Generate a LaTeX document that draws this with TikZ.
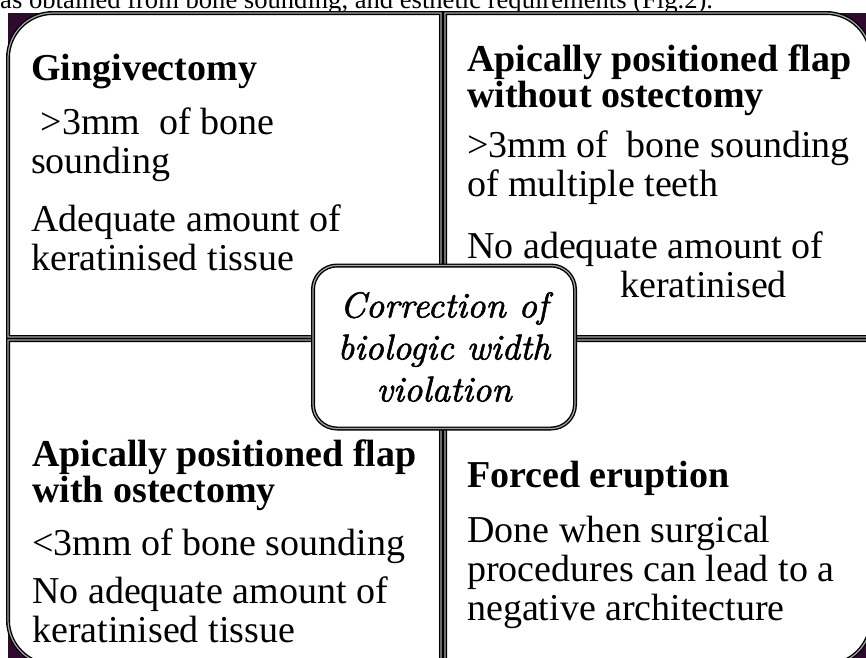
\documentclass[tikz,border=0pt]{standalone}
\usepackage{fontspec}
\usepackage{tikz}
\usetikzlibrary{positioning}
\newfontfamily\timesfont{Liberation Serif}
\newfontface\hubfont{lmroman10-italic.otf}[FakeBold=1.6]
\definecolor{plum}{RGB}{46,10,46}

\begin{document}
\begin{tikzpicture}[x=1pt, y=1pt,
  frame/.style={fill=white, draw=black, line width=1.4pt, double=gray!70, double distance=1.2pt},
  head/.style={anchor=base west, inner sep=0pt, align=left,
    font=\timesfont\bfseries\fontsize{38}{34}\selectfont},
  body/.style={anchor=base west, inner sep=0pt, align=left,
    font=\timesfont\fontsize{38}{39}\selectfont},
  hub/.style={frame, rounded corners=24pt, minimum width=262pt, minimum height=163pt,
    align=center, inner sep=0pt, font=\hubfont\fontsize{36}{42}\selectfont},
]
\useasboundingbox (0,0) rectangle (866,-657);
\clip (0,0) rectangle (866,-657);

% Page and dark backdrop
\fill[white] (0,0) rectangle (866,-657);
\fill[plum] (8,-13) rectangle (872,-666);
\node[anchor=base west, inner sep=0pt, font=\timesfont\fontsize{26.6}{26.6}\selectfont] (caption)
  at (0,-8) {as obtained from bone sounding, and esthetic requirements (Fig.2).};

% Quadrants
\path[frame] (441,-13) -- (53,-13) arc[start angle=90, end angle=180, radius=45]
  -- (8,-337) -- (441,-337) -- cycle;
\path[frame] (445,-13) -- (826,-13) arc[start angle=90, end angle=0, radius=45]
  -- (871,-337) -- (445,-337) -- cycle;
\path[frame] (441,-340) -- (8,-340) -- (8,-620) arc[start angle=180, end angle=270, radius=45]
  -- (441,-665) -- cycle;
\path[frame] (445,-340) -- (871,-340) -- (871,-620) arc[start angle=0, end angle=-90, radius=45]
  -- (445,-665) -- cycle;

% Top left (node base = last line)
\node[head] (gingi) at (31,-80) {Gingivectomy};
\node[body] (gingi1) at (31,-173) {\ >3mm\ \ of bone\\sounding};
\node[body] (gingi2) at (31,-270) {Adequate amount of\\keratinised tissue};

% Top right
\node[head] (apfwo) at (467,-107) {Apically positioned flap\\without ostectomy};
\node[body] (apfwo1) at (467,-196) {>3mm of\ \ bone sounding\\of multiple teeth};
\node[body] (apfwo2) at (467,-297) {No adequate amount of\\\hspace*{153pt}keratinised};

% Bottom left
\node[head] (apfw) at (32,-502) {Apically positioned flap\\with ostectomy};
\node[body] (apfw1) at (32,-555) {<3mm of bone sounding};
\node[body] (apfw2) at (32,-642) {No adequate amount of\\keratinised tissue};

% Bottom right
\node[head] (forced) at (467,-487) {Forced eruption};
\node[body] (forced1) at (467,-620) {Done when surgical\\procedures can lead to a\\negative architecture};

% Centre
\node[hub] (hub) at (444,-347) {Correction of\\biologic width\\violation};

\end{tikzpicture}
\end{document}
